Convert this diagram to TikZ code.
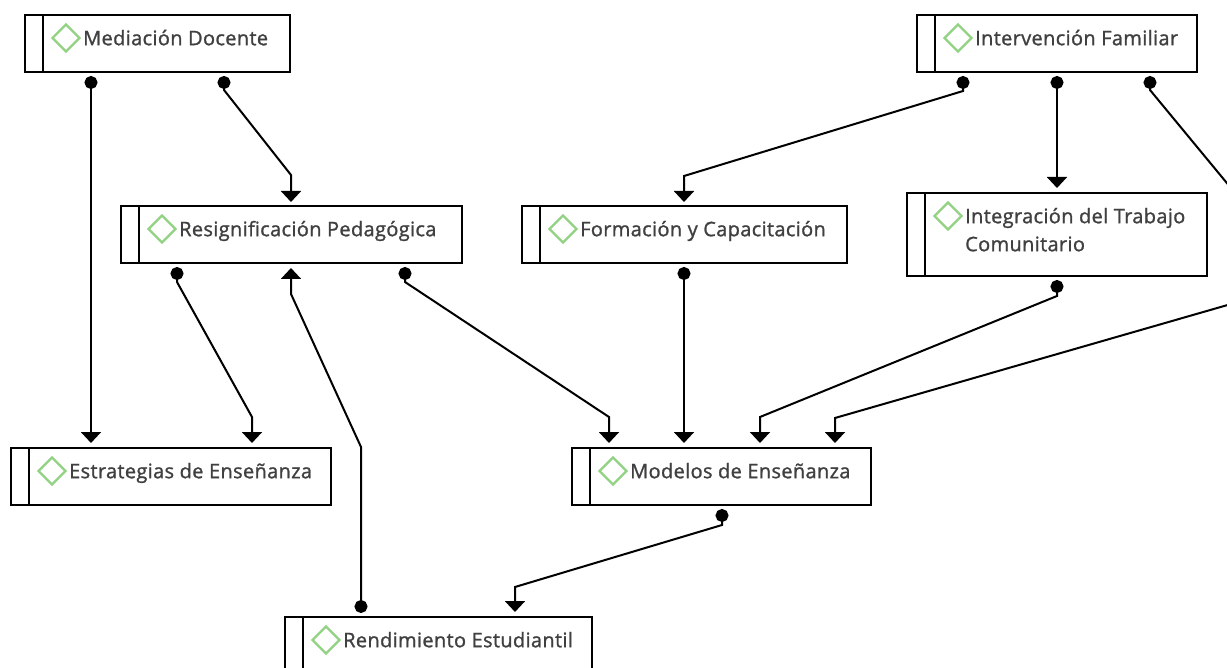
\documentclass[tikz,border=0pt]{standalone}
\usepackage{fontspec}
\setmainfont{Open Sans}[FakeBold=1.2,LetterSpace=1.7]
\usetikzlibrary{arrows.meta,shapes.geometric}

\tikzset{
    caja/.style={draw=black, line width=2pt, fill=white, anchor=north west, inner sep=0pt, outer sep=0pt},
    rombo/.style={diamond, draw=rombocolor, line width=2.4pt, aspect=1, inner sep=0pt, minimum size=28pt},
    texto/.style={anchor=north west, align=left, inner sep=0pt, text=textocolor, font=\fontsize{20}{28}\selectfont},
    enlace/.style={draw=black, line width=2pt, {Circle[length=13pt]}-{Triangle[width=20pt,length=11pt]}},
}
\definecolor{rombocolor}{HTML}{92D283}
\definecolor{textocolor}{HTML}{404040}

% Caja con franja lateral, rombo y texto.
\newcommand{\caja}[6]{%
    \node[caja, minimum width=#4pt, minimum height=#5pt] (#1) at (#2,#3) {};
    \draw[line width=2pt] ([xshift=18pt]#1.north west) -- ([xshift=18pt]#1.south west);
    \node[rombo] (#1r) at ([shift={(41,23)}]#1.north west) {};
    \node[texto] (#1t) at ([shift={(58,10.4)}]#1.north west) {\strut #6};
}

\begin{document}
\begin{tikzpicture}[x=1pt,y=-1pt]
        \useasboundingbox (0,0) rectangle (1227,668);
        \clip (0,0) rectangle (1227,668);

        % Dibuja las cajas de cada concepto.
        \caja{med}{25}{15}{265}{57}{Mediación Docente}
        \caja{fam}{917}{15}{280}{57}{Intervención Familiar}
        \caja{res}{121}{206}{341}{57}{Resignificación Pedagógica}
        \caja{for}{522}{206}{325}{57}{Formación y Capacitación}
        \caja{tra}{907}{193}{300}{83}{Integración del Trabajo\\Comunitario}
        \caja{est}{11}{448}{320}{57}{Estrategias de Enseñanza}
        \caja{mod}{572}{448}{299}{57}{Modelos de Enseñanza}
        \caja{ren}{285}{617}{307}{57}{Rendimiento Estudiantil}

        % Enlaces que salen de Mediación Docente.
        \draw[enlace] ([shift={(66,4)}]med.south west) -- ([shift={(80,-5)}]est.north west);
        \draw[enlace] ([shift={(199,4)}]med.south west) -- ++(0,14) -- (291,175) -- ([shift={(170,-4)}]res.north west);

        % Enlaces que salen de Intervención Familiar.
        \draw[enlace] ([shift={(46,4)}]fam.south west) -- ++(0,15) -- (684,176) -- ([shift={(162,-4)}]for.north west);
        \draw[enlace] ([shift={(140,4)}]fam.south west) -- ([shift={(150,-5)}]tra.north west);
        \draw[enlace] ([shift={(233,4)}]fam.south west) -- ++(0,14) -- (1245,205) -- (1245,300) -- (835,418) -- ([shift={(263,-5)}]mod.north west);

        % Enlaces que salen de Resignificación Pedagógica.
        \draw[enlace] ([shift={(56,4)}]res.south west) -- ++(0,15) -- (252,417) -- ([shift={(241,-5)}]est.north west);
        \draw[enlace] ([shift={(284,4)}]res.south west) -- ++(0,15) -- (609,417) -- ([shift={(37,-5)}]mod.north west);

        % Enlaces hacia Modelos de Enseñanza.
        \draw[enlace] ([shift={(162,4)}]for.south west) -- ([shift={(112,-5)}]mod.north west);
        \draw[enlace] ([shift={(150,4)}]tra.south west) -- ++(0,16) -- (760,417) -- ([shift={(188,-5)}]mod.north west);

        % Enlaces de Modelos de Enseñanza y Rendimiento Estudiantil.
        \draw[enlace] ([shift={(150,4)}]mod.south west) -- ++(0,16) -- (515,587) -- ([shift={(230,-5)}]ren.north west);
        \draw[enlace] ([shift={(76,-4)}]ren.north west) -- (361,447) -- (291,294) -- ([shift={(170,5)}]res.south west);
    \end{tikzpicture}
\end{document}
